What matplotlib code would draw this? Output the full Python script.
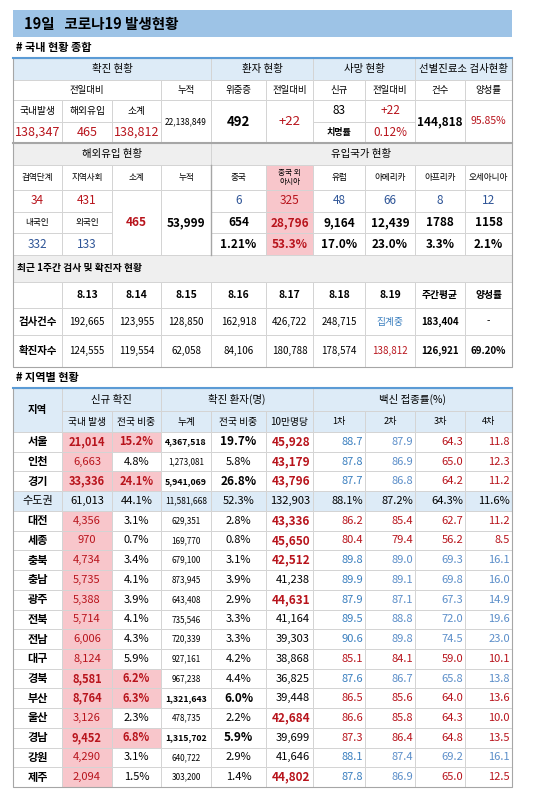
import matplotlib
matplotlib.use("Agg")
import matplotlib.pyplot as plt
from matplotlib.patches import Rectangle

plt.rcParams["font.family"] = ["Noto Sans CJK KR", "DejaVu Sans"]

RED = "#b8141c"
BLUE = "#3a7fbf"
LBLUE = "#5b8ec9"
NAVY = "#2f5597"
PINK = "#f8c6cb"
HEAD = "#ddebf7"
GREY = "#efefef"
EDGE = "#d4d4d4"

# ---- data ----
top_values = ["138,347", "465", "138,812"]
total_cum = "22,138,849"
critical, critical_delta = "492", "+22"
deaths_new, deaths_delta, fatality = "83", "+22", "0.12%"
tests_count, tests_pos = "144,818", "95.85%"

imp_quarantine, imp_community, imp_sub, imp_cum = "34", "431", "465", "53,999"
imp_native, imp_foreign = "332", "133"
origin_names = ["중국", "중국 외\n아시아", "유럽", "아메리카", "아프리카", "오세아니아"]
origin_today = ["6", "325", "48", "66", "8", "12"]
origin_cum = ["654", "28,796", "9,164", "12,439", "1788", "1158"]
origin_share = ["1.21%", "53.3%", "17.0%", "23.0%", "3.3%", "2.1%"]

week_dates = ["8.13", "8.14", "8.15", "8.16", "8.17", "8.18", "8.19"]
week_tests = ["192,665", "123,955", "128,850", "162,918", "426,722", "248,715", "집계중"]
week_cases = ["124,555", "119,554", "62,058", "84,106", "180,788", "178,574", "138,812"]
week_avg_tests, week_avg_cases, week_pos = "183,404", "126,921", "69.20%"

regions = ["서울", "인천", "경기", "수도권", "대전", "세종", "충북", "충남", "광주", "전북",
           "전남", "대구", "경북", "부산", "울산", "경남", "강원", "제주"]
new_local = ["21,014", "6,663", "33,336", "61,013", "4,356", "970", "4,734", "5,735", "5,388",
             "5,714", "6,006", "8,124", "8,581", "8,764", "3,126", "9,452", "4,290", "2,094"]
new_share = ["15.2%", "4.8%", "24.1%", "44.1%", "3.1%", "0.7%", "3.4%", "4.1%", "3.9%", "4.1%",
             "4.3%", "5.9%", "6.2%", "6.3%", "2.3%", "6.8%", "3.1%", "1.5%"]
cum_cases = ["4,367,518", "1,273,081", "5,941,069", "11,581,668", "629,351", "169,770", "679,100",
             "873,945", "643,408", "735,546", "720,339", "927,161", "967,238", "1,321,643",
             "478,735", "1,315,702", "640,722", "303,200"]
cum_share = ["19.7%", "5.8%", "26.8%", "52.3%", "2.8%", "0.8%", "3.1%", "3.9%", "2.9%", "3.3%",
             "3.3%", "4.2%", "4.4%", "6.0%", "2.2%", "5.9%", "2.9%", "1.4%"]
per100k = ["45,928", "43,179", "43,796", "132,903", "43,336", "45,650", "42,512", "41,238",
           "44,631", "41,164", "39,303", "38,868", "36,825", "39,448", "42,684", "39,699",
           "41,646", "44,802"]
vac1 = ["88.7", "87.8", "87.7", "88.1%", "86.2", "80.4", "89.8", "89.9", "87.9", "89.5", "90.6",
        "85.1", "87.6", "86.5", "86.6", "87.3", "88.1", "87.8"]
vac2 = ["87.9", "86.9", "86.8", "87.2%", "85.4", "79.4", "89.0", "89.1", "87.1", "88.8", "89.8",
        "84.1", "86.7", "85.6", "85.8", "86.4", "87.4", "86.9"]
vac3 = ["64.3", "65.0", "64.2", "64.3%", "62.7", "56.2", "69.3", "69.8", "67.3", "72.0", "74.5",
        "59.0", "65.8", "64.0", "64.3", "64.8", "69.2", "65.0"]
vac4 = ["11.8", "12.3", "11.2", "11.6%", "11.2", "8.5", "16.1", "16.0", "14.9", "19.6", "23.0",
        "10.1", "13.8", "13.6", "10.0", "13.5", "16.1", "12.5"]
# b = blue (above national), r = red, k = metro subtotal
vac_tone = ["bbrr", "bbrr", "bbrr", "kkkk", "rrrr", "rrrr", "bbbb", "bbbb", "bbbb", "bbbb",
            "bbbb", "rrrr", "bbbb", "rrrr", "rrrr", "rrrr", "bbbb", "bbrr"]
hot_share = ["서울", "경기", "경북", "부산", "경남"]
bold_local = ["서울", "경기", "경북", "부산", "경남"]
hot_100k = ["서울", "인천", "경기", "대전", "세종", "충북", "광주", "울산", "제주"]
big_cum = ["서울", "경기", "부산", "경남"]

X = [13, 62, 112, 161, 211, 266, 313, 365, 415, 465, 512]

fig = plt.figure(figsize=(5.5, 7.99), dpi=100)
ax = fig.add_axes([0, 0, 1, 1])
ax.set_xlim(0, 550)
ax.set_ylim(799, 0)
ax.axis("off")


def cell(x0, x1, y0, y1, text="", fc="white", color="black", size=7.5, weight="normal",
         ha="center", pad=3, ec=EDGE):
    ax.add_patch(Rectangle((x0, y0), x1 - x0, y1 - y0, facecolor=fc, edgecolor=ec, lw=0.7))
    if text:
        if ha == "center":
            tx = (x0 + x1) / 2
        elif ha == "right":
            tx = x1 - pad
        else:
            tx = x0 + pad
        ax.text(tx, (y0 + y1) / 2, text, ha=ha, va="center", fontsize=size, color=color,
                fontweight=weight, linespacing=1.25)


# title
ax.add_patch(Rectangle((13, 10), 499, 27, facecolor="#9dc3e6", edgecolor="none"))
ax.text(24, 23.5, "19일   코로나19 발생현황", fontsize=10.5, fontweight="bold", va="center")
ax.text(16, 47, "# 국내 현황 종합", fontsize=8, fontweight="bold", va="center")

# ---- table 1 ----
for (a, b, t) in [(0, 4, "확진 현황"), (4, 6, "환자 현황"), (6, 8, "사망 현황"), (8, 10, "선별진료소 검사현황")]:
    cell(X[a], X[b], 58, 80, t, fc=HEAD, size=7.5, weight="medium")
cell(X[0], X[3], 80, 100, "전일대비", size=6.8, weight="medium")
for i, t in zip(range(3, 10), ["누적", "위중증", "전일대비", "신규", "전일대비", "건수", "양성률"]):
    cell(X[i], X[i + 1], 80, 100, t, size=6.8, weight="medium")
for i, t in enumerate(["국내발생", "해외유입", "소계"]):
    cell(X[i], X[i + 1], 100, 122, t, size=7)
    cell(X[i], X[i + 1], 122, 143, top_values[i], color=RED, size=9)
cell(X[3], X[4], 100, 143, total_cum, size=6)
cell(X[4], X[5], 100, 143, critical, size=9.5, weight="bold")
cell(X[5], X[6], 100, 143, critical_delta, color=RED, size=9.5)
cell(X[6], X[7], 100, 122, deaths_new, size=8.5)
cell(X[7], X[8], 100, 122, deaths_delta, color=RED, size=8.5)
cell(X[6], X[7], 122, 143, "치명률", size=6.5, weight="bold")
cell(X[7], X[8], 122, 143, fatality, color=RED, size=8.5)
cell(X[8], X[9], 100, 143, tests_count, size=8.5, weight="bold")
cell(X[9], X[10], 100, 143, tests_pos, color=RED, size=7.5)
ax.plot([13, 512], [143, 143], color="#a6a6a6", lw=1.5)
ax.plot([13, 512], [58, 58], color="#5b9bd5", lw=1.5)

# ---- overseas inflow ----
cell(X[0], X[4], 143, 165, "해외유입 현황", fc=GREY, size=7.5, weight="medium")
cell(X[4], X[10], 143, 165, "유입국가 현황", fc=GREY, size=7.5, weight="medium")
for i, t in enumerate(["검역단계", "지역사회", "소계", "누적"]):
    cell(X[i], X[i + 1], 165, 190, t, size=6.2, weight="medium")
for j, t in enumerate(origin_names):
    cell(X[4 + j], X[5 + j], 165, 190, t, size=5.5 if "\n" in t else 6.2, weight="medium",
         fc=PINK if j == 1 else "white")
cell(X[0], X[1], 190, 212, imp_quarantine, color=RED, size=8.5)
cell(X[1], X[2], 190, 212, imp_community, color=RED, size=8.5)
cell(X[2], X[3], 190, 255, imp_sub, color=RED, size=8.5, weight="bold")
cell(X[3], X[4], 190, 255, imp_cum, size=8.5, weight="bold")
cell(X[0], X[1], 212, 233, "내국인", size=6.2)
cell(X[1], X[2], 212, 233, "외국인", size=6.2)
cell(X[0], X[1], 233, 255, imp_native, color=NAVY, size=8.5)
cell(X[1], X[2], 233, 255, imp_foreign, color=NAVY, size=8.5)
for j in range(6):
    hot = j == 1
    fc = PINK if hot else "white"
    cell(X[4 + j], X[5 + j], 190, 212, origin_today[j], fc=fc, color=RED if hot else NAVY, size=8.5)
    cell(X[4 + j], X[5 + j], 212, 233, origin_cum[j], fc=fc, color=RED if hot else "black",
         size=8.5, weight="bold")
    cell(X[4 + j], X[5 + j], 233, 255, origin_share[j], fc=fc, color=RED if hot else "black",
         size=8.5, weight="bold")
ax.plot([211, 211], [165, 255], color="#a6a6a6", lw=1)

# ---- last week ----
cell(X[0], X[10], 255, 282, "최근 1주간 검사 및 확진자 현황", fc=GREY, size=7, weight="bold",
     ha="left", pad=4)
cell(X[0], X[1], 282, 308, "")
for k, d in enumerate(week_dates + ["주간평균", "양성률"]):
    cell(X[1 + k], X[2 + k], 282, 308, d, size=7 if k >= 7 else 7.5, weight="bold")
cell(X[0], X[1], 308, 335, "검사건수", size=7.5, weight="bold")
cell(X[0], X[1], 335, 367, "확진자수", size=7.5, weight="bold")
for k in range(7):
    cell(X[1 + k], X[2 + k], 308, 335, week_tests[k], size=7,
         color=BLUE if week_tests[k] == "집계중" else "black")
    cell(X[1 + k], X[2 + k], 335, 367, week_cases[k], size=7, color=RED if k == 6 else "black")
cell(X[8], X[9], 308, 335, week_avg_tests, size=7, weight="bold")
cell(X[9], X[10], 308, 335, "-", size=7)
cell(X[8], X[9], 335, 367, week_avg_cases, size=7, weight="bold")
cell(X[9], X[10], 335, 367, week_pos, size=7, weight="bold")

# ---- regional table ----
ax.text(16, 377, "# 지역별 현황", fontsize=8, fontweight="bold", va="center")
cell(X[0], X[1], 388, 432, "지역", fc=HEAD, size=7.5, weight="bold")
cell(X[1], X[3], 388, 411, "신규 확진", fc=HEAD, size=7.5, weight="medium")
cell(X[3], X[6], 388, 411, "확진 환자(명)", fc=HEAD, size=7.5, weight="medium")
cell(X[6], X[10], 388, 411, "백신 접종률(%)", fc=HEAD, size=7.5, weight="medium")
for i, t in enumerate(["국내 발생", "전국 비중", "누계", "전국 비중", "10만명당", "1차", "2차", "3차", "4차"]):
    cell(X[1 + i], X[2 + i], 411, 432, t, fc=HEAD, size=7 if i < 5 else 6.5, weight="medium")
ax.plot([13, 512], [388, 388], color="#5b9bd5", lw=1.5)

rh = (787 - 432) / len(regions)
for r, name in enumerate(regions):
    y0, y1 = 432 + r * rh, 432 + (r + 1) * rh
    metro = name == "수도권"
    base = HEAD if metro else "white"
    cell(X[0], X[1], y0, y1, name, fc=base, size=8, weight="normal" if metro else "bold")
    if metro:
        cell(X[1], X[2], y0, y1, new_local[r], fc=base, size=8)
        cell(X[2], X[3], y0, y1, new_share[r], fc=base, size=8)
        cell(X[3], X[4], y0, y1, cum_cases[r], fc=base, size=6)
        cell(X[4], X[5], y0, y1, cum_share[r], fc=base, size=8)
        cell(X[5], X[6], y0, y1, per100k[r], fc=base, size=8, ha="right")
    else:
        cell(X[1], X[2], y0, y1, new_local[r], fc=PINK, color=RED, size=8,
             weight="bold" if name in bold_local else "normal")
        hs = name in hot_share
        cell(X[2], X[3], y0, y1, new_share[r], fc=PINK if hs else "white",
             color=RED if hs else "black", size=8, weight="bold" if hs else "normal")
        bc = name in big_cum
        cell(X[3], X[4], y0, y1, cum_cases[r], size=6.3 if bc else 5.8,
             weight="bold" if bc else "normal")
        cell(X[4], X[5], y0, y1, cum_share[r], size=8.5 if bc else 8,
             weight="bold" if bc else "normal")
        h = name in hot_100k
        cell(X[5], X[6], y0, y1, per100k[r], size=8.5 if h else 8, color=RED if h else "black",
             weight="bold" if h else "normal", ha="right")
    for c, vals in enumerate([vac1, vac2, vac3, vac4]):
        tone = vac_tone[r][c]
        col = {"b": BLUE if c == 0 else LBLUE, "r": RED, "k": "black"}[tone]
        cell(X[6 + c], X[7 + c], y0, y1, vals[r], fc=base, color=col, size=8, ha="right", pad=2)

ax.add_patch(Rectangle((13, 388), 499, 399, facecolor="none", edgecolor="#a6a6a6", lw=0.8))
ax.add_patch(Rectangle((13, 58), 499, 309, facecolor="none", edgecolor="#a6a6a6", lw=0.8))

fig.savefig("out.png", dpi=100)
